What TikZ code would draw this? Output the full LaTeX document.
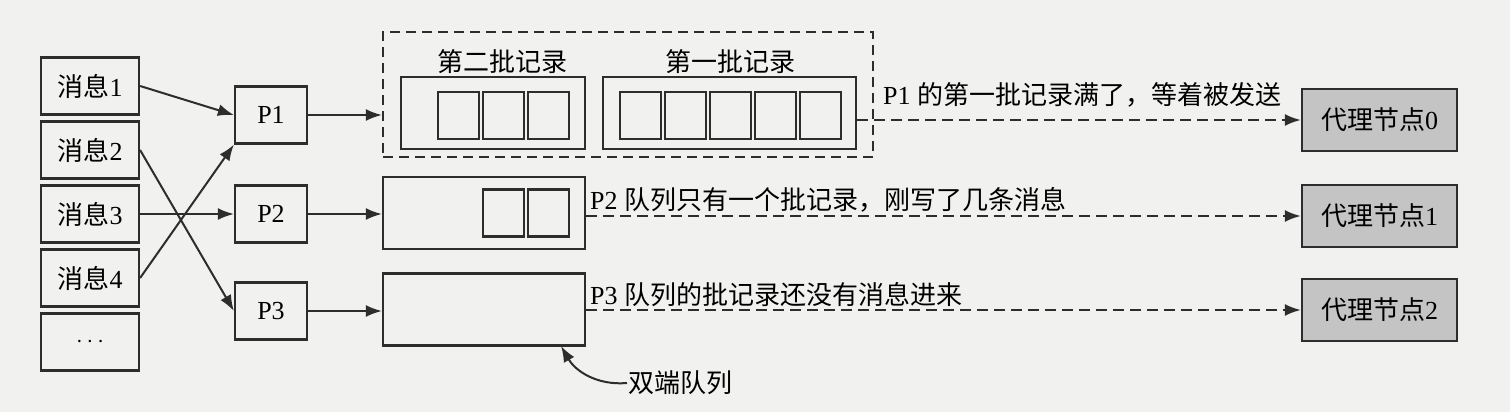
\documentclass[tikz,border=0pt]{standalone}
\usepackage{fontspec}
\setmainfont{Liberation Serif}
\newfontfamily\cjk{Noto Sans CJK SC}
\newcommand{\zh}[1]{{\cjk #1}}
\usetikzlibrary{arrows.meta}
\definecolor{paper}{RGB}{241,241,239}
\definecolor{ink}{RGB}{45,45,45}
\definecolor{brokergray}{RGB}{196,196,196}

\begin{document}
\begin{tikzpicture}[
  x=0.5pt, y=-0.5pt,
  >={Latex[length=8pt,width=6pt]},
  line width=1.1pt,
  draw=ink,
  font=\fontsize{13}{15}\selectfont,
  msg/.style={draw=ink,minimum width=49pt,minimum height=28.5pt,inner sep=0},
  prod/.style={draw=ink,minimum width=36pt,minimum height=28.5pt,inner sep=0},
  batch/.style={draw=ink,minimum height=36pt,inner sep=0},
  slot/.style={draw=ink,minimum width=20.5pt,minimum height=23.5pt,inner sep=0},
  pool/.style={draw=ink,dash pattern=on 5pt off 3pt,minimum width=245pt,minimum height=62.5pt,inner sep=0},
  broker/.style={draw=ink,fill=brokergray,minimum width=77.5pt,minimum height=31pt,inner sep=0},
  note/.style={anchor=west,inner sep=0},
  link/.style={->,draw=ink,line width=1pt},
  send/.style={->,draw=ink,line width=1.1pt,dash pattern=on 5.5pt off 3pt}
  ]

  \fill[paper] (0,0) rectangle (1510,412);
  \useasboundingbox (0,0) rectangle (1510,412);

  % messages and partitions
  \foreach \i/\y in {1/86,2/150,3/214,4/278}
    \node [msg] (m\i) at (90,\y) {\zh{消息}\i};
  \node [msg] (m5) at (90,342) {$\cdots$};

  \node [prod] (p1) at (271,115) {P1};
  \node [prod] (p2) at (271,214) {P2};
  \node [prod] (p3) at (271,311) {P3};

  \draw[link] (m1.east) -- (p1.west);
  \draw[link] (m2.east) -- (p3.west);
  \draw[link] (m3.east) -- (p2.west);
  \draw[link] (m4.east) -- (p1.south west);

  % record accumulator queues
  \node [pool] (pool) at (628,94.5) {};
  \node [batch,minimum width=92pt] (second) at (493,113) {};
  \node [batch,minimum width=126.5pt] (first) at (729.5,113) {};
  \node (secondlbl) at (502,62) {\zh{第二批记录}};
  \node (firstlbl) at (730,62) {\zh{第一批记录}};
  \foreach \x [count=\i] in {458.5,503.5,548.5}
    \node [slot] (a\i) at (\x,115.5) {};
  \foreach \x [count=\i] in {640.5,685.5,730.5,775.5,820.5}
    \node [slot] (b\i) at (\x,115.5) {};

  \node [batch,minimum width=101pt] (q2) at (484,213) {};
  \foreach \x [count=\i] in {503.5,548.5}
    \node [slot] (c\i) at (\x,213) {};
  \node [batch,minimum width=101pt] (q3) at (484,309.5) {};

  \draw[link] (p1.east) -- (p1.east -| pool.west);
  \draw[link] (p2.east) -- (p2.east -| q2.west);
  \draw[link] (p3.east) -- (p3.east -| q3.west);

  % brokers
  \node [broker] (b0) at (1379.5,120) {\zh{代理节点}0};
  \node [broker] (b1) at (1379.5,216) {\zh{代理节点}1};
  \node [broker] (b2) at (1379.5,310) {\zh{代理节点}2};

  \draw[send] (first.east |- b0.west) -- (b0.west);
  \draw[send] (q2.east |- b1.west) -- (b1.west);
  \draw[send] (q3.east |- b2.west) -- (b2.west);

  \node [note] (n1) at (882,95) {P1 \zh{的第一批记录满了，等着被发送}};
  \node [note] (n2) at (589,200) {P2 \zh{队列只有一个批记录，刚写了几条消息}};
  \node [note] (n3) at (589,295) {P3 \zh{队列的批记录还没有消息进来}};

  \node [note] (dq) at (627,383) {\zh{双端队列}};
  \coordinate (tip) at (561,346);
  \draw[link] (dq.west) to[out=185,in=-60] (tip);

\end{tikzpicture}
\end{document}
